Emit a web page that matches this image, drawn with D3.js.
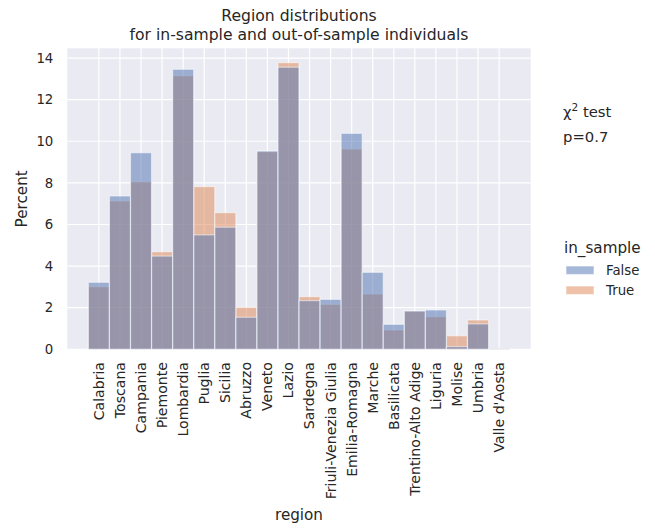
<!DOCTYPE html>
<html>
<head>
<meta charset="utf-8">
<script src="https://cdn.jsdelivr.net/npm/d3@7"></script>
<style>
  html, body { margin: 0; padding: 0; background: #ffffff; }
  svg text { font-family: "DejaVu Sans", sans-serif; fill: #262626; }
</style>
</head>
<body>
<svg id="chart" width="655" height="531"></svg>
<script>
// Regions, in the order they appear on the x axis
const regions = ["Calabria", "Toscana", "Campania", "Piemonte", "Lombardia", "Puglia",
  "Sicilia", "Abruzzo", "Veneto", "Lazio", "Sardegna", "Friuli-Venezia Giulia",
  "Emilia-Romagna", "Marche", "Basilicata", "Trentino-Alto Adige", "Liguria",
  "Molise", "Umbria", "Valle d'Aosta"];

// Percent of individuals per region, out-of-sample (in_sample = False)
const pctFalse = [3.22, 7.37, 9.45, 4.48, 13.46, 5.50, 5.87, 1.54, 9.53, 13.56,
  2.34, 2.40, 10.38, 3.70, 1.20, 1.84, 1.89, 0.13, 1.22, 0.03];

// Percent of individuals per region, in-sample (in_sample = True)
const pctTrue = [3.01, 7.13, 8.06, 4.69, 13.15, 7.82, 6.57, 2.02, 9.50, 13.78,
  2.53, 2.16, 9.63, 2.66, 0.93, 1.84, 1.57, 0.65, 1.41, 0.03];

const yTicks = [0, 2, 4, 6, 8, 10, 12, 14];
const legendLabels = ["False", "True"];
const titleLines = ["Region distributions", "for in-sample and out-of-sample individuals"];
const pValue = "p=0.7";

const colors = { False: "#4c72b0", True: "#dd8452" };

const svg = d3.select("#chart");
const plot = { left: 67.3, right: 530.7, top: 48.3, bottom: 349.3 };

const n = regions.length;
const x = d3.scaleLinear()
  .domain([-0.5 - 0.05 * n, n - 0.5 + 0.05 * n])
  .range([plot.left, plot.right]);
const yMax = d3.max(pctFalse.concat(pctTrue)) * 1.05;
const y = d3.scaleLinear().domain([0, yMax]).range([plot.bottom, plot.top]);

// Axes background
svg.append("rect")
  .attr("x", plot.left).attr("y", plot.top)
  .attr("width", plot.right - plot.left).attr("height", plot.bottom - plot.top)
  .attr("fill", "#eaeaf2");

// Grid lines (drawn beneath the bars)
const grid = svg.append("g");
grid.selectAll("line.h").data(yTicks).join("line")
  .attr("x1", plot.left).attr("x2", plot.right)
  .attr("y1", d => y(d)).attr("y2", d => y(d))
  .attr("stroke", "#ffffff").attr("stroke-width", 1.2);
grid.selectAll("line.v").data(d3.range(n)).join("line")
  .attr("x1", d => x(d)).attr("x2", d => x(d))
  .attr("y1", plot.top).attr("y2", plot.bottom)
  .attr("stroke", "#ffffff").attr("stroke-width", 1.2);

// Layered histogram bars: in-sample first, out-of-sample over it
function drawLayer(values, color) {
  svg.append("g").selectAll("rect").data(values).join("rect")
    .attr("x", (d, i) => x(i - 0.5))
    .attr("width", (d, i) => x(i + 0.5) - x(i - 0.5))
    .attr("y", d => y(d))
    .attr("height", d => y(0) - y(d))
    .attr("fill", color).attr("fill-opacity", 0.5)
    .attr("stroke", "#ffffff").attr("stroke-opacity", 0.5).attr("stroke-width", 1.2);
}
drawLayer(pctTrue, colors.True);
drawLayer(pctFalse, colors.False);

// Y axis tick labels
const yAxis = d3.axisLeft(y).tickValues(yTicks).tickSize(0).tickPadding(14);
const gy = svg.append("g").attr("transform", `translate(${plot.left},0)`).call(yAxis);
gy.select(".domain").remove();
gy.selectAll("text").style("font-size", "13.3px").attr("fill", "#262626");

// X axis tick labels, rotated vertical
const gx = svg.append("g");
gx.selectAll("text").data(regions).join("text")
  .attr("transform", (d, i) => `translate(${x(i)},${362}) rotate(-90)`)
  .attr("text-anchor", "end")
  .attr("dy", "0.35em")
  .style("font-size", "14.1px")
  .text(d => d);

// Title
svg.append("g").selectAll("text").data(titleLines).join("text")
  .attr("x", (plot.left + plot.right) / 2)
  .attr("y", (d, i) => 21 + i * 19)
  .attr("text-anchor", "middle")
  .style("font-size", "15.6px")
  .text(d => d);

// Axis labels
svg.append("text")
  .attr("x", (plot.left + plot.right) / 2).attr("y", 520)
  .attr("text-anchor", "middle").style("font-size", "15.2px")
  .text("region");
svg.append("text")
  .attr("transform", `translate(27,${(plot.top + plot.bottom) / 2}) rotate(-90)`)
  .attr("text-anchor", "middle").style("font-size", "15.2px")
  .text("Percent");

// Chi-squared test annotation
const chi = svg.append("text").attr("x", 563).attr("y", 117).style("font-size", "14.8px");
chi.append("tspan").text("χ");
chi.append("tspan").attr("dy", -6).style("font-size", "10.5px").text("2");
chi.append("tspan").attr("dy", 6).text(" test");
svg.append("text").attr("x", 563).attr("y", 142).style("font-size", "14.8px").text(pValue);

// Legend
const legend = svg.append("g");
legend.append("text").attr("x", 564).attr("y", 253).style("font-size", "15.2px").text("in_sample");
const rows = legend.selectAll("g.row").data(legendLabels).join("g")
  .attr("transform", (d, i) => `translate(0,${i * 20})`);
rows.append("rect")
  .attr("x", 566).attr("y", 266).attr("width", 28).attr("height", 8.5)
  .attr("fill", d => colors[d]).attr("fill-opacity", 0.5)
  .attr("stroke", "#ffffff").attr("stroke-opacity", 0.5).attr("stroke-width", 1.2);
rows.append("text").attr("x", 606).attr("y", 275).style("font-size", "13.3px").text(d => d);
</script>
</body>
</html>
